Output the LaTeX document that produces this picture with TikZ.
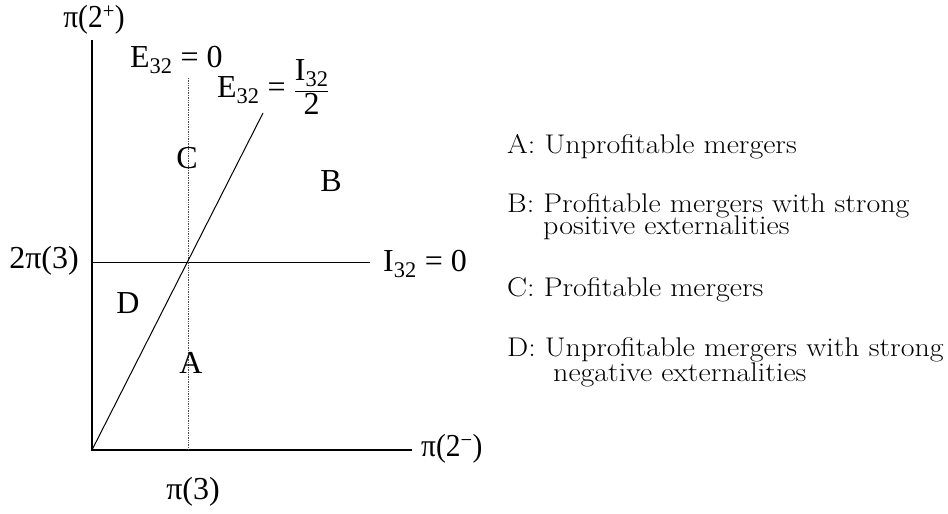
\documentclass[tikz,border=0pt]{standalone}
\usepackage{fontspec}
\newfontfamily\tms{Liberation Serif}
\newcommand\hp[1]{\scalebox{0.92}[1]{#1}}
\newcommand\hl[1]{\scalebox{1.11}[1]{#1}}
\begin{document}
\begin{tikzpicture}[x=1pt,y=-1pt,
  tlab/.style={font=\tms\fontsize{32}{36}\selectfont, inner sep=0pt},
  llab/.style={font=\fontsize{27}{31}\selectfont, inner sep=0pt, anchor=base west},
  axisline/.style={line width=1.1pt, black},
  thinline/.style={line width=1pt, black},
  dotline/.style={line width=0.7pt, black!70, densely dotted}]
\useasboundingbox (0,0) rectangle (948,514);
% coordinates
\coordinate (O) at (92,450);
\coordinate (Ytop) at (92,40);
\coordinate (Xend) at (412,450);
\coordinate (Hl) at (92,262);
\coordinate (Hr) at (370,262);
\coordinate (Vt) at (188,78);
\coordinate (Vb) at (188,450);
\coordinate (Dt) at (263,113);
% lines
\draw[axisline] (Ytop) -- (O) -- (Xend);
\draw[thinline] (Hl) -- (Hr);
\draw[dotline] (Vt) -- (Vb);
\draw[thinline] (O) -- (Dt);
% axis and curve labels
\node[tlab] (py) at (94,20) {\hp{π(2\textsuperscript{+})}};
\node[tlab, anchor=base west] (e0) at (130,67) {E\textsubscript{32} = 0};
\node[tlab, anchor=base west] (eh) at (217,97) {E\textsubscript{32} = $\displaystyle\frac{\mbox{I\textsubscript{32}}}{\mbox{2}}$};
\node[tlab] (tp3) at (44,261) {2π(3)};
\node[tlab, anchor=base west] (i0) at (383,271) {I\textsubscript{32} = 0};
\node[tlab, anchor=west] (px) at (421,449) {\hp{π(2\textsuperscript{−})}};
\node[tlab] (p3) at (193,492) {π(3)};
% regions
\node[tlab] (rC) at (187,158) {C};
\node[tlab] (rB) at (331,181) {B};
\node[tlab] (rD) at (128,303) {D};
\node[tlab] (rA) at (191,363) {A};
% legend
\node[llab] (lA) at (507,153) {\hl{A: Unprofitable mergers}};
\node[llab] (lB1) at (507,212) {\hl{B: Profitable mergers with strong}};
\node[llab] (lB2) at (543,234) {\hl{positive externalities}};
\node[llab] (lC) at (507,296) {\hl{C: Profitable mergers}};
\node[llab] (lD1) at (507,356) {\hl{D: Unprofitable mergers with strong}};
\node[llab] (lD2) at (553,381) {\hl{negative externalities}};
\end{tikzpicture}
\end{document}
